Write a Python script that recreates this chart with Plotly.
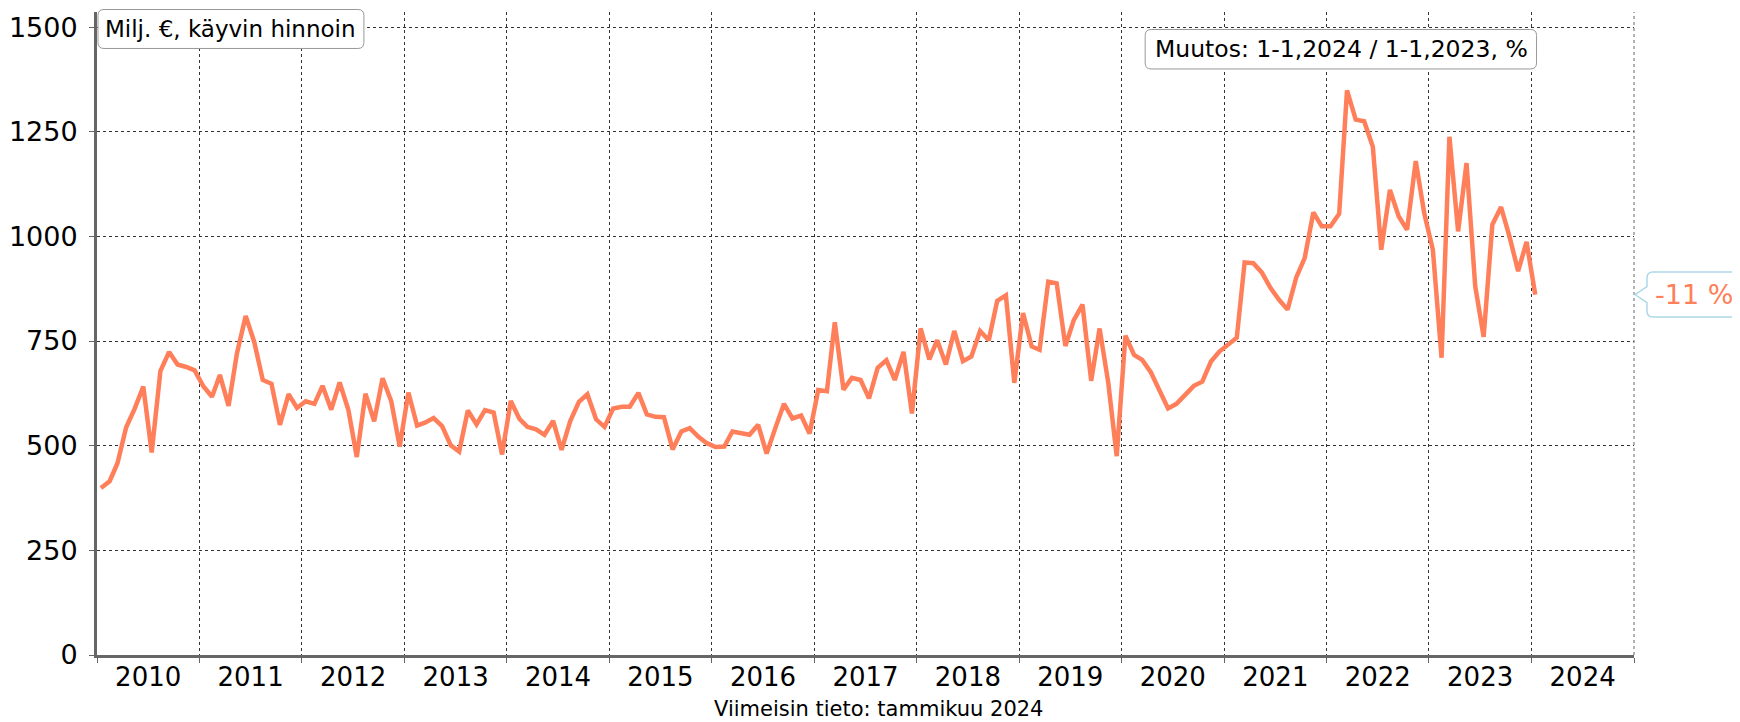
import pandas as pd
import plotly.graph_objects as go

# ------------------------------
# Data (Milj. €, monthly, Jan 2010 - Jan 2024)
# ------------------------------
v2010 = [399, 415, 458, 544, 588, 641, 484, 678, 724, 694, 688, 680]
v2011 = [642, 617, 669, 595, 721, 810, 749, 657, 648, 550, 623, 590]
v2012 = [606, 600, 643, 586, 651, 586, 473, 624, 558, 661, 606, 498]
v2013 = [627, 548, 555, 566, 547, 501, 486, 584, 551, 585, 579, 479]
v2014 = [607, 564, 545, 539, 526, 559, 490, 559, 605, 623, 563, 545]
v2015 = [589, 593, 593, 626, 575, 569, 568, 491, 534, 542, 521, 506]
v2016 = [497, 498, 534, 530, 526, 550, 481, 542, 600, 565, 572, 529]
v2017 = [633, 630, 795, 634, 662, 657, 613, 686, 704, 657, 724, 577]
v2018 = [780, 706, 752, 694, 774, 702, 713, 774, 752, 846, 859, 650]
v2019 = [817, 737, 729, 892, 888, 738, 800, 837, 655, 780, 650, 475]
v2020 = [763, 717, 705, 675, 634, 589, 600, 623, 643, 653, 701, 725]
v2021 = [740, 758, 938, 936, 914, 877, 849, 825, 902, 948, 1057, 1024]
v2022 = [1024, 1054, 1349, 1279, 1275, 1214, 968, 1111, 1048, 1016, 1180, 1056]
v2023 = [968, 710, 1238, 1012, 1175, 881, 760, 1028, 1070, 1000, 917, 987]
v2024 = [861]

values = (v2010 + v2011 + v2012 + v2013 + v2014 + v2015 + v2016 + v2017
          + v2018 + v2019 + v2020 + v2021 + v2022 + v2023 + v2024)
dates = pd.date_range("2010-01-01", periods=len(values), freq="MS") + pd.Timedelta(days=14)

y_ticks = [0, 250, 500, 750, 1000, 1250, 1500]
label_unit = "Milj. €, käyvin hinnoin"
label_change = "Muutos: 1-1,2024 / 1-1,2023, %"
label_latest = "Viimeisin tieto: tammikuu 2024"

change = round((values[-1] / values[-13] - 1) * 100)

# ------------------------------
# Figure Setup
# ------------------------------
OFF = 8  # page body margin
W, H = 1740 - OFF, 722 - OFF
L, T = 96.5, 12          # plot area in page pixels
PW, PH = 1537.5, 643.5
YMAX = 1536
FONT = "DejaVu Sans"
LINE = "#FF7F5A"


def px_x(p):
    return (p - L) / PW


def px_y(p):
    return (T + PH - p) / PH


def rounded_box(x0, y0, x1, y1, r=6):
    # page pixel coords -> paper coords, rounded corners
    a0, a1 = px_x(x0), px_x(x1)
    b0, b1 = px_y(y1), px_y(y0)
    rx, ry = r / PW, r / PH
    return (f"M {a0 + rx},{b0} L {a1 - rx},{b0} Q {a1},{b0} {a1},{b0 + ry} "
            f"L {a1},{b1 - ry} Q {a1},{b1} {a1 - rx},{b1} L {a0 + rx},{b1} "
            f"Q {a0},{b1} {a0},{b1 - ry} L {a0},{b0 + ry} Q {a0},{b0} {a0 + rx},{b0} Z")


fig = go.Figure()
fig.add_trace(go.Scatter(x=dates, y=values, mode="lines",
                         line=dict(color=LINE, width=4.5), hoverinfo="x+y"))

fig.update_layout(
    width=W, height=H,
    margin=dict(l=L - OFF, r=W - (L - OFF) - PW, t=T - OFF, b=H - (T - OFF) - PH, pad=0),
    plot_bgcolor="white", paper_bgcolor="white",
    showlegend=False,
    font=dict(family=FONT, color="black"),
)

fig.update_xaxes(
    type="date", range=["2010-01-01", "2025-01-01"],
    dtick="M12", tick0="2010-01-01", ticklabelmode="period", tickformat="%Y",
    showgrid=True, gridcolor="#333", griddash="dot", gridwidth=1,
    showline=True, linecolor="#666", linewidth=3,
    ticks="outside", ticklen=5, tickcolor="#666",
    ticklabelstandoff=-8,
    tickfont=dict(size=26, family=FONT, color="black"),
    automargin=False, fixedrange=True,
)
fig.update_yaxes(
    range=[0, YMAX], tickvals=y_ticks,
    showgrid=True, gridcolor="#333", griddash="dot", gridwidth=1,
    showline=True, linecolor="#666", linewidth=3,
    ticks="outside", ticklen=5, tickcolor="#666",
    ticklabelstandoff=6,
    tickfont=dict(size=27, family=FONT, color="black"),
    zeroline=False, automargin=False, fixedrange=True,
)

# right plot edge gridline (2025)
fig.add_shape(type="line", xref="paper", yref="paper", x0=1, x1=1, y0=0, y1=1,
              line=dict(color="#666", width=1, dash="dot"))

# boxes
fig.add_shape(type="path", xref="paper", yref="paper",
              path=rounded_box(97.5, 9.5, 363.5, 48.5),
              fillcolor="white", line=dict(color="#999", width=1), layer="above")
fig.add_annotation(x=px_x(230.5), y=px_y(29), xref="paper", yref="paper",
                   xanchor="center", yanchor="middle",
                   text=label_unit, showarrow=False,
                   font=dict(size=23, family=FONT, color="black"))

fig.add_shape(type="path", xref="paper", yref="paper",
              path=rounded_box(1145, 29.5, 1536.5, 69),
              fillcolor="white", line=dict(color="#999", width=1), layer="above")
fig.add_annotation(x=px_x(1341), y=px_y(49.5), xref="paper", yref="paper",
                   xanchor="center", yanchor="middle",
                   text=label_change, showarrow=False,
                   font=dict(size=23.5, family=FONT, color="black"))

# change callout at last value
yc = values[-1]
u = YMAX / PH
bx0, bx1, tip = px_x(1647), px_x(1780), px_x(1635)
top, bot = yc + 22.5 * u, yc - 22.5 * u
rx, ry = 6 / PW, 6 * u
callout = (f"M {tip},{yc} L {bx0},{yc + 8 * u} L {bx0},{top - ry} Q {bx0},{top} {bx0 + rx},{top} "
           f"L {bx1},{top} L {bx1},{bot} L {bx0 + rx},{bot} Q {bx0},{bot} {bx0},{bot + ry} "
           f"L {bx0},{yc - 8 * u} Z")
fig.add_shape(type="path", xref="paper", yref="y", path=callout,
              fillcolor="white", line=dict(color="#ADD8E6", width=1.5), layer="above")
fig.add_annotation(x=px_x(1653), y=yc, xref="paper", yref="y",
                   xanchor="left", yanchor="middle",
                   text=f"{change} %", showarrow=False,
                   font=dict(size=27, family=FONT, color=LINE))

fig.add_annotation(x=px_x(878), y=px_y(710), xref="paper", yref="paper",
                   xanchor="center", yanchor="middle",
                   text=label_latest, showarrow=False,
                   font=dict(size=21, family=FONT, color="black"))

fig.write_html("out.html")
